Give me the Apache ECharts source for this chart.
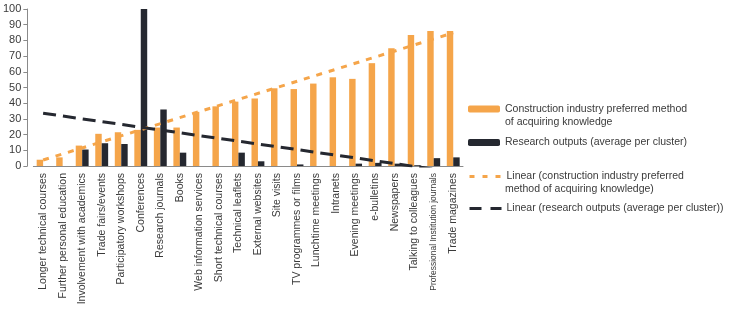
<!DOCTYPE html>
<html><head><meta charset="utf-8">
<script src="https://cdn.jsdelivr.net/npm/echarts@6/dist/echarts.min.js"></script>
<style>html,body{margin:0;padding:0;background:#fff}#c{width:730px;height:335px}</style>
</head><body><div id="c"></div>
<script>
var categories = ["Longer technical courses","Further personal education","Involvement with academics","Trade fairs/events","Participatory workshops","Conferences","Research journals","Books","Web information services","Short technical courses","Technical leaflets","External websites","Site visits","TV programmes or films","Lunchtime meetings","Intranets","Evening meetings","e-bulletins","Newspapers","Talking to colleagues","Professional Institution journals","Trade magazines"];
var industryValues = [4,5.5,13,20.5,21.5,23,24.5,24.5,34.5,38,41,43,49.5,49,52.5,56.5,55.5,65.5,75,83.5,86,86];
var researchValues = [0,0,10.5,14.5,14,100,36,8.5,0,0,8.5,3,0,1,0,0,1.5,2,1.5,0.5,5,5.5];
var industryTrend = [3.8, 84.8];
var researchTrend = [33.6, -3.8];
var names = ["Construction industry preferred method","Research outputs (average per cluster)","Linear (construction industry preferred","Linear (research outputs (average per cluster))"];
var nameSecondLines = ["of acquiring knowledge","","method of acquiring knowledge)",""];

var ORANGE = '#F5A54A', DARK = '#252830', TXT = '#3a3a3a';
var FONT = '"Liberation Sans", Arial, sans-serif';
var chart = echarts.init(document.getElementById('c'), null, {renderer:'canvas'});
var last = categories.length - 1;
var legendCenters = [109, 142.5, 176.5, 208.5];
var legendDash = [null, null, [5,8], [12,9]];
var legends = names.map(function(n,i){
  var l = {show:true, data:[n], left:468, top:legendCenters[i]-6.5, padding:0, orient:'vertical',
    itemWidth:32, itemHeight:(legendDash[i] ? 3 : 7), selectedMode:false,
    textStyle:{color:TXT, fontSize:10.5, lineHeight:13, fontFamily:FONT}};
  if (legendDash[i]) {
    l.lineStyle = {type: legendDash[i], width:3};
    l.itemStyle = {opacity:0, borderWidth:0};
  }
  return l;
});
var graphics = [];
nameSecondLines.forEach(function(t,i){
  if(t) graphics.push({type:'text', x:505, y:legendCenters[i]+13,
    style:{text:t, fill:TXT, font:'10.5px ' + FONT, verticalAlign:'middle', align:'left'}});
});
chart.setOption({
  animation:false,
  grid:{left:28, right:267, top:9, bottom:169},
  legend: legends,
  graphic: graphics,
  xAxis:{type:'category', data:categories,
    axisLine:{lineStyle:{color:'#8a8a8a', width:1}},
    axisTick:{show:false},
    axisLabel:{rotate:90, interval:0, margin:7, color:TXT, fontSize:10.5, fontFamily:FONT,
      formatter:function(v){ return v.length > 30 ? '{n|' + v + '}' : v; },
      rich:{n:{fontSize:8.5, fontFamily:'"Liberation Sans Narrow", "Liberation Sans", sans-serif', color:TXT}}}},
  yAxis:{type:'value', min:0, max:100, interval:10, offset:6,
    axisLine:{show:true, lineStyle:{color:'#8a8a8a', width:1}},
    axisTick:{show:true, length:4, lineStyle:{color:'#8a8a8a'}},
    splitLine:{show:false},
    axisLabel:{margin:6, color:TXT, fontSize:11, fontFamily:FONT}},
  series:[
    {name:names[0], type:'bar', data:industryValues, itemStyle:{color:ORANGE},
      barGap:'0%', barCategoryGap:'34%'},
    {name:names[1], type:'bar', data:researchValues, itemStyle:{color:DARK}},
    {name:names[2], type:'line', symbol:'none', z:5,
      data:[[categories[0], industryTrend[0]],[categories[last], industryTrend[1]]],
      lineStyle:{color:ORANGE, width:3, type:[6,7]}, itemStyle:{color:ORANGE}},
    {name:names[3], type:'line', symbol:'none', z:5, clip:true,
      data:[[categories[0], researchTrend[0]],[categories[last], researchTrend[1]]],
      lineStyle:{color:DARK, width:3, type:[13,7]}, itemStyle:{color:DARK}}
  ]
});
</script></body></html>
